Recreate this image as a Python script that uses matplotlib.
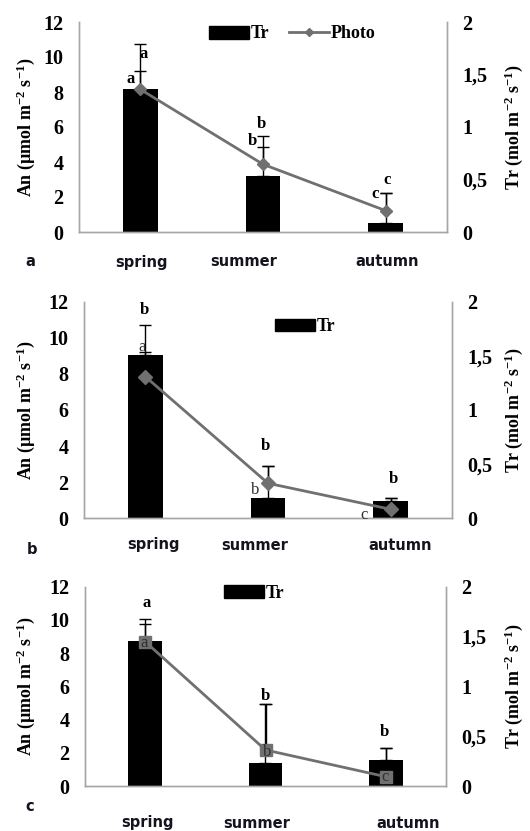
import matplotlib
matplotlib.use("Agg")
import matplotlib.pyplot as plt
from matplotlib.patches import Rectangle
from matplotlib.lines import Line2D

W, H = 530, 831
DPI = 100

plt.rcParams['font.family'] = ['Liberation Serif', 'DejaVu Serif']
plt.rcParams['mathtext.fontset'] = 'custom'
plt.rcParams['mathtext.rm'] = 'Liberation Serif:bold'
plt.rcParams['mathtext.bf'] = 'Liberation Serif:bold'
plt.rcParams['mathtext.default'] = 'bf'

seasons = ["spring", "summer", "autumn"]
panel_tags = ["a", "b", "c"]
an_ticks = [0, 2, 4, 6, 8, 10, 12]
tr_ticks = [0, 0.5, 1, 1.5, 2]
tr_tick_labels = ["0", "0,5", "1", "1,5", "2"]

# transpiration (bars, right axis) with upper error
tr_a = [1.36, 0.536, 0.083]
tr_err_a = [0.174, 0.276, 0.291]
tr_b = [1.51, 0.185, 0.163]
tr_err_b = [0.277, 0.30, 0.022]
tr_c = [1.459, 0.228, 0.261]
tr_err_c = [0.168, 0.595, 0.117]

# net photosynthesis (line, left axis) with upper error
an_a = [8.15, 3.87, 1.22]
an_err_a = [2.59, 1.62, 1.03]
an_b = [7.85, 1.94, 0.50]
an_err_b = [1.385, 0.975, 0.61]
an_c = [8.69, 2.17, 0.56]
an_err_c = [1.35, 2.77, 1.71]

# significance letters
top_letters_a = ["a", "b", "c"]
side_letters_a = ["a", "b", "c"]
top_letters_b = ["b", "b", "b"]
side_letters_b = ["a", "b", "c"]
top_letters_c = ["a", "b", "b"]
side_letters_c = ["a", "b", "c"]

LINE_GREY = "#707070"
FRAME_GREY = "#a6a6a6"
LABEL_COL = "#14141e"


def fx(x):
    return x / W


def fy(y):
    return 1 - y / H


def draw_panel(fig, box, tr, tr_err, an, an_err, top_letters, side_letters,
               top_pos, side_pos, side_bold, marker, msize, legend_xy, show_photo,
               cat_y, cat_x, tag_xy, tag):
    x0, y0, x1, y1 = box
    ax = fig.add_axes([fx(x0), fy(y1), (x1 - x0) / W, (y1 - y0) / H])
    ax2 = ax.twinx()
    ax.set_zorder(ax2.get_zorder() + 1)
    ax.patch.set_visible(False)

    xs = [i + 0.5 for i in range(len(seasons))]
    ax2.bar(xs, tr, width=0.28, color="black", zorder=2)
    ax2.errorbar(xs, tr, yerr=[[0] * len(tr), tr_err], fmt="none", ecolor="black",
                 elinewidth=1, capsize=4, capthick=1, zorder=3)
    ax.errorbar(xs, an, yerr=[[0] * len(an), an_err], fmt="none", ecolor="black",
                elinewidth=1, capsize=4, capthick=1, zorder=3)
    ax.plot(xs, an, color=LINE_GREY, lw=2, marker=marker, ms=msize,
            mfc=LINE_GREY, mec=LINE_GREY, zorder=4)

    for (px, py), t in zip(top_pos, top_letters):
        ax.text(px, py, t, ha="center", va="center", fontsize=12, fontweight="bold", zorder=6)
    for (px, py), t in zip(side_pos, side_letters):
        if side_bold:
            ax.text(px, py, t, ha="center", va="center", fontsize=12, fontweight="bold", zorder=6)
        else:
            ax.text(px, py, t, ha="center", va="center", fontsize=12, color="#303030", zorder=6)

    ax.set_xlim(0, 3)
    ax.set_ylim(0, 12)
    ax2.set_ylim(0, 2)
    ax.set_xticks([])
    ax.set_yticks(an_ticks)
    ax.set_yticklabels([str(t) for t in an_ticks], fontsize=14.5, fontweight="bold")
    ax2.set_yticks(tr_ticks)
    ax2.set_yticklabels(tr_tick_labels, fontsize=14.5, fontweight="bold")
    ax.tick_params(axis="y", length=0, pad=11)
    ax2.tick_params(axis="y", length=0, pad=11)

    for a in (ax, ax2):
        a.spines["top"].set_visible(False)
        for s in ("left", "right", "bottom"):
            a.spines[s].set_color(FRAME_GREY)
            a.spines[s].set_linewidth(1)

    ax.set_ylabel("An (µmol m$^{-2}$ s$^{-1}$)", fontsize=13, fontweight="bold")
    ax2.set_ylabel("Tr (mol m$^{-2}$ s$^{-1}$)", fontsize=13, fontweight="bold")
    ax.yaxis.set_label_coords((37 - x0) / (x1 - x0), 0.5)
    ax2.yaxis.set_label_coords((502 - x0) / (x1 - x0), 0.5)

    bar_handle = Rectangle((0, 0), 1, 1, color="black")
    handles, labels = [bar_handle], ["Tr"]
    if show_photo:
        handles.append(Line2D([], [], color=LINE_GREY, lw=2, marker="D", ms=4.5,
                              mfc=LINE_GREY, mec=LINE_GREY))
        labels.append("Photo")
    ax.legend(handles, labels, loc="center left",
              bbox_to_anchor=(fx(legend_xy[0]), fy(legend_xy[1])),
              bbox_transform=fig.transFigure, frameon=False, ncol=2,
              borderpad=0, borderaxespad=0, handlelength=2.2, handleheight=0.7,
              handletextpad=0.1, columnspacing=1.1,
              prop={"weight": "bold", "size": 13})

    for cx, name in zip(cat_x, seasons):
        fig.text(fx(cx), fy(cat_y), name, ha="center", va="center", fontsize=10.5,
                 fontweight="bold", family="DejaVu Sans", color=LABEL_COL)
    fig.text(fx(tag_xy[0]), fy(tag_xy[1]), tag, ha="center", va="center", fontsize=10.5,
             fontweight="bold", family="DejaVu Sans", color=LABEL_COL)


fig = plt.figure(figsize=(W / DPI, H / DPI), dpi=DPI)

draw_panel(fig, (79, 22, 447, 232), tr_a, tr_err_a, an_a, an_err_a,
           top_letters_a, side_letters_a,
           [(0.530, 10.15), (1.483, 6.17), (2.508, 2.97)],
           [(0.421, 8.73), (1.410, 5.2), (2.412, 2.17)],
           True, "D", 6.5, (209, 34), True,
           262, [141, 244, 387], (30, 262), panel_tags[0])

draw_panel(fig, (84, 301.7, 452, 518.3), tr_b, tr_err_b, an_b, an_err_b,
           top_letters_b, side_letters_b,
           [(0.489, 11.55), (1.481, 4.02), (2.521, 2.18)],
           [(0.470, 9.51), (1.394, 1.57), (2.284, 0.18)],
           False, "D", 7, (275, 326.7), False,
           545, [154, 255, 400], (31.7, 550), panel_tags[1])

draw_panel(fig, (85, 586.7, 446, 786), tr_c, tr_err_c, an_c, an_err_c,
           top_letters_c, side_letters_c,
           [(0.513, 11.04), (1.496, 5.42), (2.485, 3.27)],
           [(0.490, 8.60), (1.510, 2.07), (2.494, 0.56)],
           False, "s", 8.5, (224, 593.3), False,
           823, [148, 257, 408], (30, 806.7), panel_tags[2])

fig.savefig("out.png", dpi=DPI)
